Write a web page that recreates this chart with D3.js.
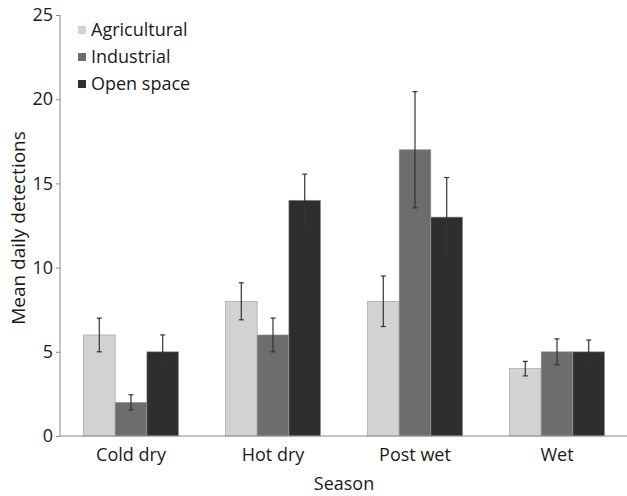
<!DOCTYPE html>
<html>
<head>
<meta charset="utf-8">
<script src="https://cdn.jsdelivr.net/npm/d3@7"></script>
<style>
  body { margin: 0; background: #fff; }
  text { font-family: "Open Sans", sans-serif; fill: #1a1a1a; }
</style>
</head>
<body>
<svg id="chart" width="627" height="496"></svg>
<script>
// data
const seasons = ["Cold dry", "Hot dry", "Post wet", "Wet"]
const landUse = ["Agricultural", "Industrial", "Open space"]
const agricultural = [6, 8, 8, 4]
const industrial = [2, 6, 17, 5]
const openSpace = [5, 14, 13, 5]
// half-length of error bars
const agriculturalErr = [1, 1.1, 1.5, 0.43]
const industrialErr = [0.45, 1, 3.45, 0.77]
const openSpaceErr = [1, 1.55, 2.35, 0.7]
const yTicks = [0, 5, 10, 15, 20, 25]

const colors = ["#d2d2d2", "#6d6d6d", "#2e2e2e"]
const values = [agricultural, industrial, openSpace]
const errors = [agriculturalErr, industrialErr, openSpaceErr]

let svg = d3.select("#chart")
let margin = { left: 60, top: 15, right: 0, bottom: 60 }

let x0 = d3.scaleBand()
    .domain(seasons)
    .range([margin.left, 628])
    .paddingInner(0.33)
    .paddingOuter(0.165)

let x1 = d3.scaleBand()
    .domain(landUse)
    .range([0, x0.bandwidth()])

let yScale = d3.scaleLinear()
    .domain([0, 25])
    .range([436, margin.top])

// one record per bar
let bars = []
seasons.forEach((s, i) => {
    landUse.forEach((k, j) => {
        bars.push({ season: s, key: k, value: values[j][i], err: errors[j][i], color: colors[j] })
    })
})

// bars
svg.append("g").selectAll("rect")
    .data(bars)
    .enter()
    .append("rect")
    .attr("x", d => x0(d.season) + x1(d.key))
    .attr("y", d => yScale(d.value))
    .attr("width", x1.bandwidth())
    .attr("height", d => yScale(0) - yScale(d.value))
    .attr("fill", d => d.color)
    .attr("stroke", "#9a9a9a")
    .attr("stroke-width", 0.6)

// error bars
let eb = svg.append("g").attr("stroke", "#333").attr("stroke-width", 1.2)
bars.forEach(d => {
    let cx = x0(d.season) + x1(d.key) + x1.bandwidth() / 2
    let top = yScale(d.value + d.err), bot = yScale(d.value - d.err)
    eb.append("line").attr("x1", cx).attr("x2", cx).attr("y1", top).attr("y2", bot)
    eb.append("line").attr("x1", cx - 2.5).attr("x2", cx + 2.5).attr("y1", top).attr("y2", top)
    eb.append("line").attr("x1", cx - 2.5).attr("x2", cx + 2.5).attr("y1", bot).attr("y2", bot)
})

// y axis
let yAxis = svg.append("g")
    .attr("transform", "translate(" + margin.left + ",0)")
    .call(d3.axisLeft(yScale).tickValues(yTicks).tickSize(4).tickPadding(3))
yAxis.select(".domain").attr("stroke", "#8a8a8a").attr("d", "M0," + yScale(25) + "V" + yScale(0))
yAxis.selectAll(".tick line").attr("stroke", "#8a8a8a")
yAxis.selectAll(".tick text").style("font-size", "18px").attr("fill", "#1a1a1a")

// x axis
let xAxis = svg.append("g")
    .attr("transform", "translate(0," + yScale(0) + ")")
    .call(d3.axisBottom(x0).tickSize(0).tickPadding(12))
xAxis.select(".domain").attr("stroke", "#8a8a8a").attr("d", "M" + margin.left + ",0H627")
xAxis.selectAll(".tick text").style("font-size", "18px").attr("fill", "#1a1a1a")

// axis titles
svg.append("text")
    .attr("x", 344).attr("y", 490)
    .attr("text-anchor", "middle")
    .style("font-size", "18px")
    .text("Season")

svg.append("text")
    .attr("transform", "translate(25,228) rotate(-90)")
    .attr("text-anchor", "middle")
    .style("font-size", "19px")
    .text("Mean daily detections")

// legend
let legend = svg.append("g").attr("transform", "translate(78,30)")
landUse.forEach((k, i) => {
    let row = legend.append("g").attr("transform", "translate(0," + i * 27 + ")")
    row.append("rect").attr("x", 0).attr("y", -4).attr("width", 8).attr("height", 8).attr("fill", colors[i])
    row.append("text").attr("x", 13).attr("y", 0).attr("dy", "0.35em")
        .style("font-size", "18px").text(k)
})
</script>
</body>
</html>
